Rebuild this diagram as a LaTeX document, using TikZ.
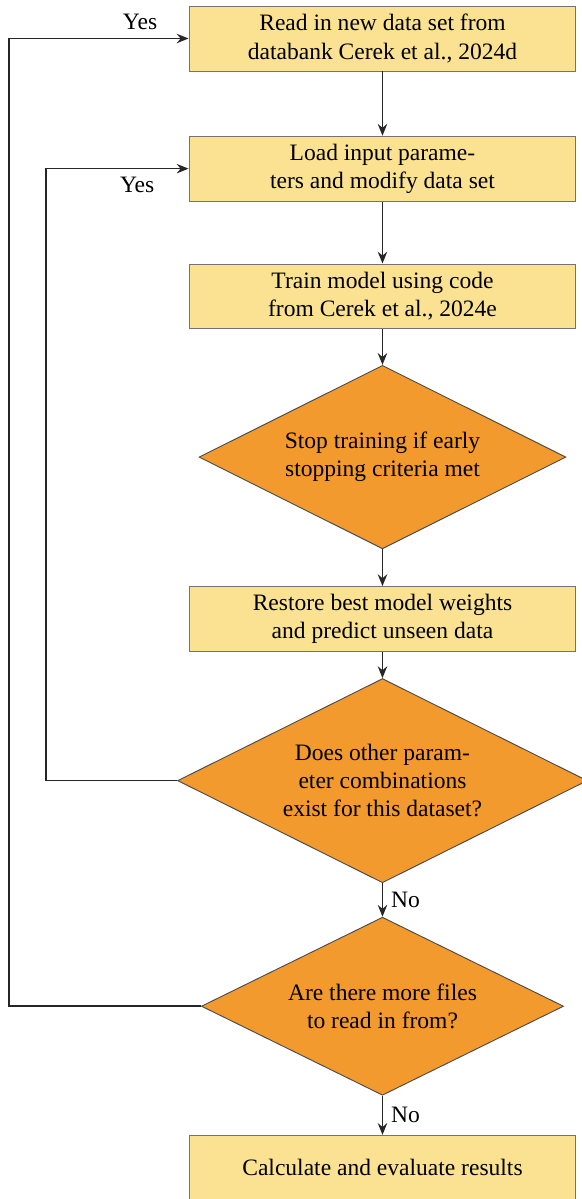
\documentclass[tikz,border=0pt]{standalone}
\usepackage{fontspec}
\setmainfont{Liberation Serif}
\usetikzlibrary{positioning, shapes.geometric, arrows.meta}

\definecolor{boxyellow}{HTML}{FAE292}
\definecolor{decorange}{HTML}{F39A2E}

\begin{document}
\begin{tikzpicture}[
  process/.style={rectangle, draw=black!55, line width=0.4pt, fill=boxyellow, minimum width=5.78cm, minimum height=0.97cm, align=center, inner sep=0pt},
  decision/.style={diamond, draw=black!70, line width=0.4pt, fill=decorange, aspect=2, inner sep=0pt, align=center},
  flow/.style={-{Stealth[length=5pt,width=4pt]}, line width=0.7pt, draw=black!85},
  ]

\useasboundingbox (0,0) rectangle (8.693,-17.909);

% Flow nodes
\node[process] (read) at (5.713,-0.575) {Read in new data set from\\databank Cerek et al., 2024d};
\node[process, below=0.96cm of read] (load) {Load input parame-\\ters and modify data set};
\node[process, below=0.925cm of load] (train) {Train model using code\\from Cerek et al., 2024e};
\node[decision, minimum width=5.48cm, minimum height=2.74cm, below=0.53cm of train] (stop) {Stop training if early\\stopping criteria met};
\node[process, below=0.55cm of stop] (restore) {Restore best model weights\\and predict unseen data};
\node[decision, minimum width=6.12cm, minimum height=3.05cm, below=0.39cm of restore] (params) {Does other param-\\eter combinations\\exist for this dataset?};
\node[decision, minimum width=5.41cm, minimum height=2.66cm, below=0.50cm of params] (files) {Are there more files\\to read in from?};
\node[process, below=0.585cm of files] (results) {Calculate and evaluate results};

% Loop columns
\coordinate (outerx) at (0.134,0);
\coordinate (innerx) at (0.687,0);

% Connections
\draw[flow] (read) -- (load);
\draw[flow] (load) -- (train);
\draw[flow] (train) -- (stop);
\draw[flow] (stop) -- (restore);
\draw[flow] (restore) -- (params);
\draw[flow] (params) -- node[right] {No} (files);
\draw[flow] (files) -- node[right] {No} (results);

% Loops back
\draw[flow] (params.west) -- (params.west -| innerx) |- node[pos=0.82, below] {Yes} (load.west);
\draw[flow] (files.west) -- (files.west -| outerx) |- node[pos=0.865, above] {Yes} (read.west);

\end{tikzpicture}
\end{document}
